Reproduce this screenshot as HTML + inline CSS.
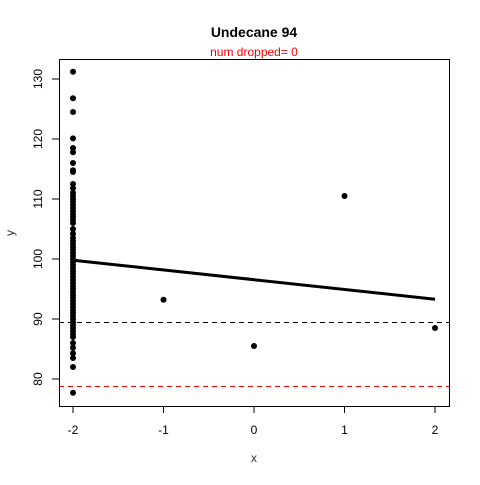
<!DOCTYPE html>
<html><head><meta charset="utf-8"><style>
body{margin:0;background:#fff}
svg text{font-family:"Liberation Sans",Arial,sans-serif}
</style></head><body>
<svg id="chart" width="480" height="480" xmlns="http://www.w3.org/2000/svg">
<rect width="480" height="480" fill="#fff"/>
<text x="254" y="37" text-anchor="middle" font-size="14" font-weight="bold">Undecane 94</text>
<text x="254" y="56" text-anchor="middle" font-size="12" fill="#ff0000">num dropped= 0</text>
<rect x="59.5" y="59.5" width="390" height="347" fill="none" stroke="#000" stroke-width="1" shape-rendering="crispEdges"/>
<text x="254" y="462" text-anchor="middle" font-size="12" fill="#333">x</text>
<text x="14" y="233" text-anchor="middle" font-size="12" fill="#333" transform="rotate(-90 14 233)">y</text>
<g id="axes"></g><g id="marks"></g>
</svg>
<script>
const xTicks=[-2,-1,0,1,2];
const yTicks=[80,90,100,110,120,130];
const groupX=[-2,-1,0,1,2];
const clusterValues=[131.2,126.8,124.5,120.1,118.5,117.8,116,114.8,114.5,112.5,111.8,111,110.5,110,109.5,109,108.5,108,107.5,107,106.5,106,105,104.2,103.5,103,102.5,102,101.5,101,100.5,100,99.5,99,98.5,98,97.5,97,96.5,96,95.5,95,94.5,94,93.5,93,92.5,92,91.5,91,90.5,90,89.5,89,88.5,88,87.5,87,86,85.2,84.3,83.5,82,77.7];
const otherX=[-1,0,1,2];
const otherY=[93.2,85.5,110.5,88.5];
const fitX=[-2,2];
const fitY=[99.8,93.3];
const hlineBlack=89.4;
const hlineRed=78.9;
const NS="http://www.w3.org/2000/svg";
const sx=v=>73+(v+2)*90.5;
const sy=v=>379-(v-80)*6;
const axes=document.getElementById('axes'),marks=document.getElementById('marks');
function mk(tag,a,p){const e=document.createElementNS(NS,tag);for(const k in a)e.setAttribute(k,a[k]);p.appendChild(e);return e;}
xTicks.forEach(t=>{
 const l=mk('line',{x1:sx(t),x2:sx(t),y1:406,y2:413,stroke:'#000','shape-rendering':'crispEdges'},axes);
 
 
 const tx=mk('text',{x:sx(t),y:434,'text-anchor':'middle','font-size':12},axes);tx.textContent=t;
 
 
});
yTicks.forEach(t=>{
 const l=mk('line',{x1:52,x2:59,y1:sy(t),y2:sy(t),stroke:'#000','shape-rendering':'crispEdges'},axes);
 
 
 const tx=mk('text',{x:42,y:sy(t),'text-anchor':'middle','font-size':12,transform:`rotate(-90 42 ${sy(t)})`},axes);tx.textContent=t;
 
 
});
clusterValues.forEach(v=>{
 const c=mk('circle',{cx:sx(groupX[0]),cy:sy(v),r:3,fill:'#000'},marks);
 
 
});
otherX.forEach((x,i)=>{
 const c=mk('circle',{cx:sx(x),cy:sy(otherY[i]),r:3,fill:'#000'},marks);
 
 
});
const fl=mk('line',{x1:sx(fitX[0]),y1:sy(fitY[0]),x2:sx(fitX[1]),y2:sy(fitY[1]),stroke:'#000','stroke-width':3},marks);


const hb=mk('line',{x1:59,x2:449,y1:sy(hlineBlack),y2:sy(hlineBlack),stroke:'#000','stroke-dasharray':'5,4','shape-rendering':'crispEdges'},marks);


const redG=mk('g',{},marks);


const ry=Math.round(sy(hlineRed));
for(let x=59;x<449;x+=9){
 mk('rect',{x:x,y:ry,width:Math.min(5,449-x),height:1,fill:'#ff0000',style:'fill:#ff0000'},redG);
}
</script>
</body></html>
